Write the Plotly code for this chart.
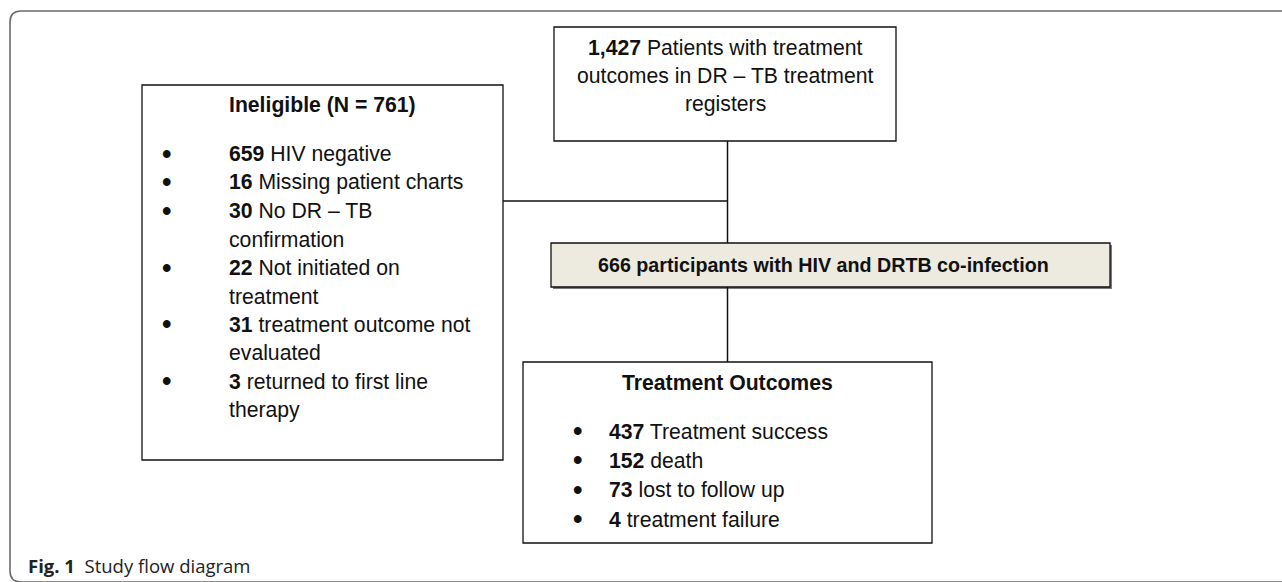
import plotly.graph_objects as go

# ---------------- data ----------------
total_patients = 1427
total_label = ["Patients with treatment", "outcomes in DR – TB treatment", "registers"]

ineligible_total = 761
ineligible_counts = [659, 16, 30, 22, 31, 3]
ineligible_labels = [
    ["HIV negative"],
    ["Missing patient charts"],
    ["No DR – TB", "confirmation"],
    ["Not initiated on", "treatment"],
    ["treatment outcome not", "evaluated"],
    ["returned to first line", "therapy"],
]

participants = 666
participants_label = "participants with HIV and DRTB co-infection"

outcomes_title = "Treatment Outcomes"
outcome_counts = [437, 152, 73, 4]
outcome_labels = ["Treatment success", "death", "lost to follow up", "treatment failure"]

caption_bold = "Fig. 1"
caption_text = "Study flow diagram"

# ---------------- layout ----------------
W, H = 1282, 582
FONT = "Liberation Sans, Arial, sans-serif"
FS = 21.2
BLACK = "#111111"

fig = go.Figure()
shapes = []
ann = []

def box(x0, y0, x1, y1, fill="white", lw=1.3):
    shapes.append(dict(type="rect", x0=x0, y0=y0, x1=x1, y1=y1,
                       line=dict(color=BLACK, width=lw), fillcolor=fill, layer="below"))

def line(x0, y0, x1, y1, lw=1.5):
    shapes.append(dict(type="line", x0=x0, y0=y0, x1=x1, y1=y1,
                       line=dict(color=BLACK, width=lw)))

def text(x, y, s, anchor="left", size=FS, font=FONT, color=BLACK):
    ann.append(dict(x=x, y=y, text=s, xref="x", yref="y", showarrow=False,
                    xanchor=anchor, yanchor="middle",
                    font=dict(family=font, size=size, color=color)))

def bullet(x, y):
    text(x, y, "<b>•</b>", anchor="center", size=27)

# outer frame (rounded on the left, extends past right/bottom edges)
shapes.append(dict(type="path",
                   path="M 1300,11 L 21,11 Q 10,11 10,22 L 10,571 Q 10,582 21,582 L 1300,582",
                   line=dict(color="#6b6b6b", width=1.6)))

# connectors
cx = 727.5
line(cx, 141, cx, 243)
line(503, 201, cx, 201)
line(cx, 287, cx, 362)

# top box
box(554, 27, 896, 141)
for i, s in enumerate(total_label):
    t = (f"<b>{total_patients:,}</b> " + s) if i == 0 else s
    text(725, 47 + i * 28.7, t, anchor="center")

# ineligible box
box(142, 85, 503, 460)
text(322, 105, f"<b>Ineligible (N = {ineligible_total})</b>", anchor="center")
y = 154
step = 28.4
for cnt, lab in zip(ineligible_counts, ineligible_labels):
    bullet(166, y)
    for j, part in enumerate(lab):
        t = f"<b>{cnt}</b> {part}" if j == 0 else part
        text(227, y, t)
        y += step

# middle (shaded) box with shadow
shapes.append(dict(type="rect", x0=553, y0=245, x1=1112, y1=289,
                   line=dict(width=0), fillcolor="#7a7a7a", layer="below"))
box(551, 243, 1110, 287, fill="#EDEAE0")
text(823, 265, f"<b>{participants} {participants_label}</b>", anchor="center", size=19.7)

# outcomes box
box(523, 362, 932, 543)
text(727, 382, f"<b>{outcomes_title}</b>", anchor="center")
for i, (cnt, lab) in enumerate(zip(outcome_counts, outcome_labels)):
    yy = 431 + i * 29.4
    bullet(577, yy)
    text(607, yy, f"<b>{cnt}</b> {lab}")

# caption
text(26, 565, f"<b>{caption_bold}</b>  {caption_text}", size=18.5,
     font="Open Sans, Noto Sans, sans-serif", color="#222222")

fig.update_layout(
    width=W, height=H, autosize=False,
    margin=dict(l=0, r=0, t=0, b=0),
    paper_bgcolor="white", plot_bgcolor="white",
    xaxis=dict(range=[0, W], visible=False, fixedrange=True),
    yaxis=dict(range=[H, 0], visible=False, fixedrange=True),
    shapes=shapes, annotations=ann, showlegend=False,
)

fig.write_html("out.html", config={"displayModeBar": False},
               post_script="document.body.style.margin='0';document.body.style.overflow='hidden';")
